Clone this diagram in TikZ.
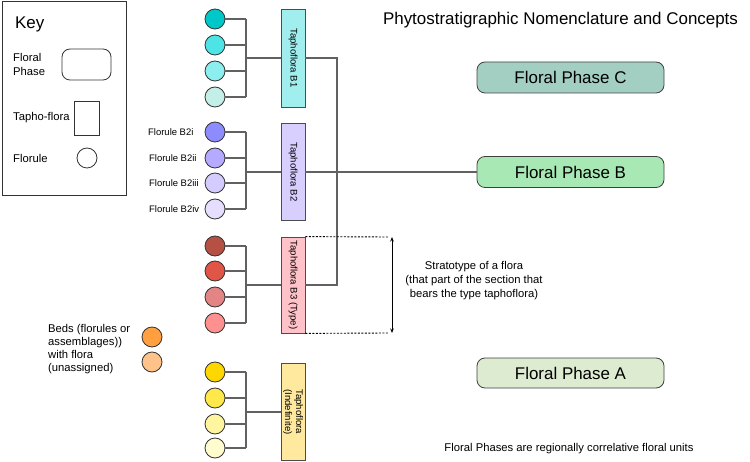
\documentclass[tikz,border=0pt]{standalone}
\usepackage{fontspec}
\setmainfont{Liberation Sans}
\usetikzlibrary{arrows.meta}
\definecolor{ca1}{HTML}{00C8C8}\definecolor{ca2}{HTML}{4CE4E4}\definecolor{ca3}{HTML}{8CEEEE}\definecolor{ca4}{HTML}{C4EEE8}\definecolor{cab}{HTML}{A0EEEE}
\definecolor{cb1}{HTML}{8C8CFF}\definecolor{cb2}{HTML}{B4AAFF}\definecolor{cb3}{HTML}{D4CCFF}\definecolor{cb4}{HTML}{E6DEFF}\definecolor{cbb}{HTML}{D8CFFF}
\definecolor{cc1}{HTML}{B55045}\definecolor{cc2}{HTML}{E05545}\definecolor{cc3}{HTML}{E38585}\definecolor{cc4}{HTML}{FF9090}\definecolor{ccb}{HTML}{FFC2C8}
\definecolor{cd1}{HTML}{FFD700}\definecolor{cd2}{HTML}{FFE84A}\definecolor{cd3}{HTML}{FFF59E}\definecolor{cd4}{HTML}{FFFCCD}\definecolor{cdb}{HTML}{FFE99E}
\definecolor{bed1}{HTML}{FF9F40}\definecolor{bed2}{HTML}{FFC289}
\definecolor{fpc}{HTML}{A3CFC2}\definecolor{fpb}{HTML}{A8E8B4}\definecolor{fpa}{HTML}{DDEBD0}
\begin{document}
\begin{tikzpicture}[x=1bp,y=-1bp,
  flor/.style={circle,draw=black!80,line width=0.8bp,minimum size=20bp,inner sep=0pt},
  tbox/.style={draw=black!70,line width=0.8bp,minimum width=24bp,inner sep=0pt},
  tlabel/.style={rotate=-90,font=\fontsize{9.6}{11}\selectfont,align=left,inner sep=0pt},
  phase/.style={draw=black!75,rounded corners=8bp,line width=0.8bp,minimum width=187bp,minimum height=31bp,inner sep=0pt,font=\fontsize{17}{19}\selectfont},
  conn/.style={draw=black!62,line width=1.2bp},
  dotl/.style={draw=black,line width=0.9bp,dash pattern=on 2bp off 1.5bp},
  small/.style={font=\fontsize{9.5}{11}\selectfont,inner sep=0pt},
  mid/.style={font=\fontsize{11.3}{13.3}\selectfont,inner sep=0pt},
  big/.style={font=\fontsize{17}{19}\selectfont,inner sep=0pt}]
\useasboundingbox (0,0) rectangle (750,462);
% Key
\node[draw=black!80,line width=0.8bp,minimum width=124bp,minimum height=194bp,inner sep=0pt] (key) at (64,98) {};
\node[big,anchor=west] (keyt) at (15,24) {Key};
\node[mid,anchor=west,align=left] (kfp) at (13,64.5) {Floral\\Phase};
\node[draw=black!80,line width=0.8bp,rounded corners=8bp,minimum width=49bp,minimum height=31bp] (kfpb) at (86.5,64.5) {};
\node[mid,anchor=west] (ktf) at (13,118) {Tapho-flora};
\node[draw=black!80,line width=0.8bp,minimum width=25bp,minimum height=34bp] (ktfb) at (86.5,118) {};
\node[mid,anchor=west] (kfl) at (13,158) {Florule};
\node[flor,fill=white] (kflc) at (87,158) {};
% Title
\node[big] (title) at (560.5,20) {Phytostratigraphic Nomenclature and Concepts};
% Floral phases
\node[phase,fill=fpc] (pC) at (570.5,77.5) {Floral Phase C};
\node[phase,fill=fpb] (pB) at (570.5,172) {Floral Phase B};
\node[phase,fill=fpa,minimum height=30bp] (pA) at (570.5,373) {Floral Phase A};
% junctions
\coordinate (j1) at (246,58);
\coordinate (j2) at (246,172);
\coordinate (j3) at (246,285);
\coordinate (j4) at (246,412);
% florules
\foreach \n/\y/\c in {a1/19/ca1,a2/45/ca2,a3/71/ca3,a4/97/ca4,
                      b1/132/cb1,b2/158/cb2,b3/183/cb3,b4/209/cb4,
                      c1/246/cc1,c2/271/cc2,c3/297/cc3,c4/323/cc4,
                      d1/372/cd1,d2/398/cd2,d3/424/cd3,d4/448/cd4}{
  \node[flor,fill=\c] (\n) at (215,\y) {};
}
\foreach \g/\j in {a/j1,b/j2,c/j3,d/j4}{
  \foreach \i in {1,2,3,4}{
    \draw[conn] (\g\i.east) -- (\g\i.east -| \j);
  }
  \draw[conn] (\g1.east -| \j) -- (\g4.east -| \j);
}
% Taphoflora boxes
\node[tbox,fill=cab,minimum height=98bp] (t1) at (293,58) {};
\node[tlabel] at (t1.center) {Taphoflora B1};
\node[tbox,fill=cbb,minimum height=97bp] (t2) at (293,172) {};
\node[tlabel] at (t2.center) {Taphoflora B2};
\node[tbox,fill=ccb,minimum height=96bp] (t3) at (293,285) {};
\node[tlabel] at (t3.center) {Taphoflora B3 (Type)};
\node[tbox,fill=cdb,minimum height=97bp] (t4) at (293,412) {};
\node[tlabel] at (t4.center) {Taphoflora\\(Indefinite)};
\draw[conn] (j1) -- (t1.west);
\draw[conn] (j2) -- (t2.west);
\draw[conn] (j3) -- (t3.west);
\draw[conn] (j4) -- (t4.west);
% florule labels
\node[small,anchor=west] (lb1) at (148,132) {Florule B2i};
\node[small,anchor=west] (lb2) at (149,158) {Florule B2ii};
\node[small,anchor=west] (lb3) at (149,183) {Florule B2iii};
\node[small,anchor=west] (lb4) at (149,209) {Florule B2iv};
% trunk
\coordinate (tr1) at (337,58);
\coordinate (tr3) at (337,285);
\draw[conn] (t1.east) -- (tr1) -- (tr3) -- (t3.east);
\draw[conn] (t2.east) -- (pB.west);
% stratotype
\coordinate (dt) at (389,237);
\coordinate (db) at (389,333);
\coordinate (at) at (392,237);
\coordinate (ab) at (392,333);
\draw[dotl] (t3.north east) -- (dt);
\draw[dotl] (t3.south east) -- (db);
\draw[line width=0.9bp,{Stealth[length=4.5bp,width=3.5bp]}-{Stealth[length=4.5bp,width=3.5bp]}] (at) -- (ab);
\node[mid,align=center,font=\fontsize{11.3}{14}\selectfont] (strat) at (474,281) {Stratotype of a flora\\(that part of the section that\\bears the type taphoflora)};
% beds
\node[mid,anchor=west,align=left] (beds) at (48,349) {Beds (florules or\\assemblages))\\with flora\\(unassigned)};
\node[flor,fill=bed1] (bd1) at (152,337) {};
\node[flor,fill=bed2] (bd2) at (152,362) {};
% note
\node[mid] (note) at (569,449) {Floral Phases are regionally correlative floral units};
\end{tikzpicture}
\end{document}
